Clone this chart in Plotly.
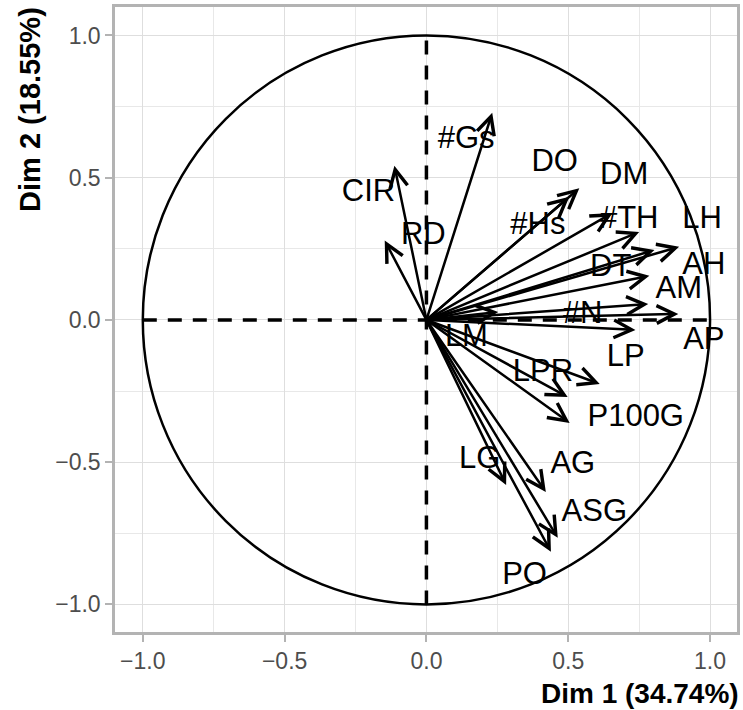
import plotly.graph_objects as go

# PCA variable coordinates (arrow tips)
variables = ["#Gs", "CIR", "RD", "DO", "#Hs", "DM", "#TH", "AH", "LH", "DT", "AM",
             "AP", "#N", "LM", "LP", "LPR", "P100G", "LG", "AG", "ASG", "PO"]
dim1 = [0.232, -0.113, -0.147, 0.539, 0.504, 0.656, 0.750, 0.804, 0.891, 0.786, 0.782,
        0.888, 0.737, 0.253, 0.611, 0.498, 0.505, 0.281, 0.421, 0.463, 0.439]
dim2 = [0.728, 0.542, 0.279, 0.463, 0.433, 0.376, 0.309, 0.246, 0.257, 0.155, 0.056,
        0.021, -0.035, 0.028, -0.225, -0.271, -0.362, -0.580, -0.605, -0.766, -0.815]

# label positions (repelled labels)
label_x = [0.140, -0.204, -0.011, 0.452, 0.393, 0.697, 0.715, 0.978, 0.972, 0.650, 0.890,
           0.978, 0.551, 0.141, 0.703, 0.411, 0.738, 0.188, 0.516, 0.592, 0.346]
label_y = [0.633, 0.446, 0.295, 0.551, 0.328, 0.504, 0.351, 0.187, 0.351, 0.182, 0.105,
           -0.076, 0.018, -0.064, -0.135, -0.187, -0.346, -0.492, -0.510, -0.680, -0.900]

tick_vals = [-1.0, -0.5, 0.0, 0.5, 1.0]
tick_text = ["\u22121.0", "\u22120.5", "0.0", "0.5", "1.0"]
x_title = "Dim 1 (34.74%)"
y_title = "Dim 2 (18.55%)"

FONT = "Liberation Sans, Arial, sans-serif"

fig = go.Figure()

# dashed reference lines
fig.add_trace(go.Scatter(x=[-1, 1], y=[0, 0], mode="lines",
                         line=dict(color="black", width=3.5, dash="14px,11px"),
                         hoverinfo="skip", showlegend=False))
fig.add_trace(go.Scatter(x=[0, 0], y=[-1, 1], mode="lines",
                         line=dict(color="black", width=3.5, dash="14px,11px"),
                         hoverinfo="skip", showlegend=False))

# unit circle
fig.add_shape(type="circle", xref="x", yref="y", x0=-1, y0=-1, x1=1, y1=1,
              line=dict(color="black", width=2.5))

# arrows
for v, a, b in zip(variables, dim1, dim2):
    fig.add_annotation(x=a, y=b, ax=0, ay=0, xref="x", yref="y", axref="x", ayref="y",
                       text="", showarrow=True, arrowhead=5, arrowsize=1.4,
                       arrowwidth=2.5, arrowcolor="black", standoff=0, startstandoff=0)

# labels
fig.add_trace(go.Scatter(x=label_x, y=label_y, mode="text", text=variables,
                         textposition="middle center",
                         textfont=dict(family=FONT, size=31, color="black"),
                         hoverinfo="skip", showlegend=False))

axis_common = dict(tickvals=tick_vals, ticktext=tick_text,
                   showgrid=True, gridcolor="#dedede", gridwidth=1.4,
                   minor=dict(dtick=0.25, showgrid=True, gridcolor="#e8e8e8", gridwidth=1),
                   zeroline=False, showline=True, mirror=True, linecolor="#b3b3b3",
                   linewidth=2.5, ticks="outside", ticklen=7, tickwidth=1.5,
                   tickcolor="#b3b3b3",
                   tickfont=dict(family=FONT, size=23, color="#4d4d4d"))

fig.update_xaxes(range=[-1.098, 1.095], **axis_common)
fig.update_yaxes(range=[-1.097, 1.1], **axis_common)

fig.add_annotation(text="<b>" + x_title + "</b>", xref="paper", yref="paper",
                   x=1.0, y=-0.0976, xanchor="right", yanchor="middle", showarrow=False,
                   xshift=4, font=dict(family=FONT, size=28, color="black"))
fig.add_annotation(text="<b>" + y_title + "</b>", xref="paper", yref="paper",
                   x=-0.1376, y=1.0, xanchor="center", yanchor="top", textangle=-90,
                   showarrow=False, yshift=2,
                   font=dict(family=FONT, size=29, color="black"))

fig.update_layout(width=743, height=710, margin=dict(l=115, r=3, t=7, b=78),
                  plot_bgcolor="white", paper_bgcolor="white", showlegend=False)

fig.write_html("out.html", config={"displayModeBar": False},
               post_script="document.body.style.margin='0px';")
